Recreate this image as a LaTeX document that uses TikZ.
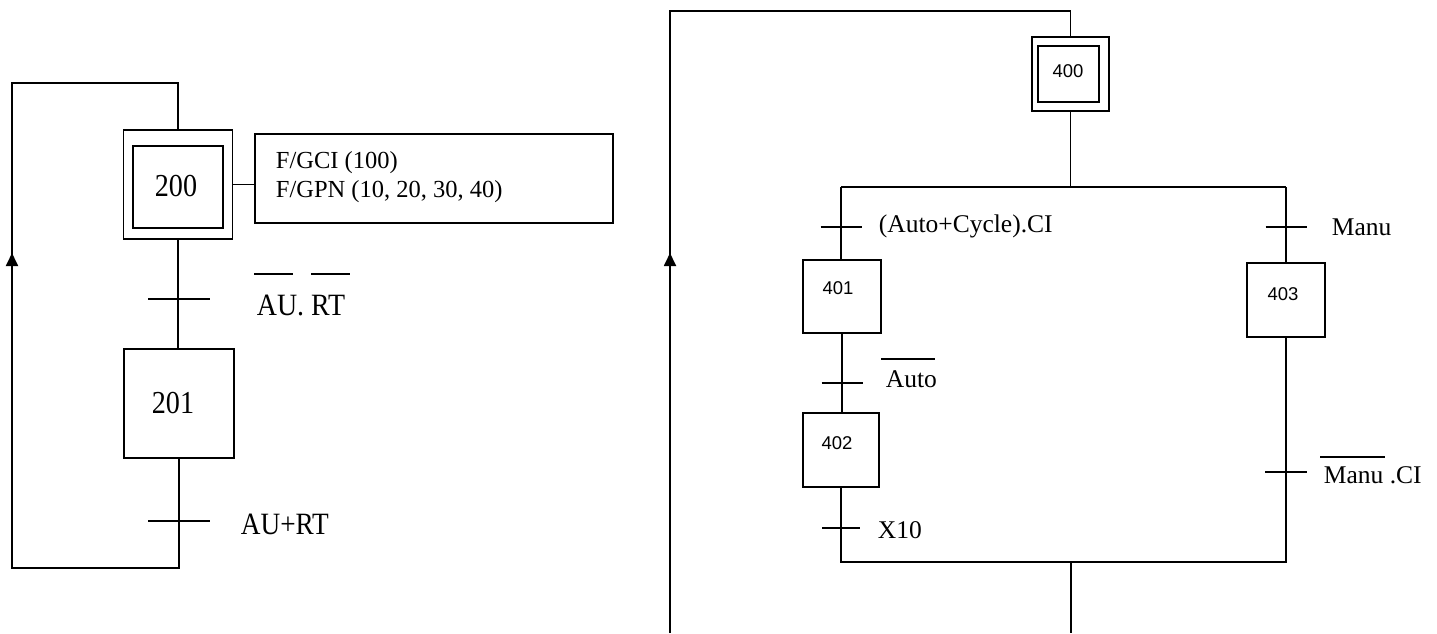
\documentclass[tikz,border=0pt]{standalone}
\usepackage{graphicx}
\usepackage{fontspec}
\setmainfont{Liberation Serif}
\newfontfamily\stepsans{Liberation Sans}
\usetikzlibrary{arrows.meta,calc}
\begin{document}
\begin{tikzpicture}[x=1pt,y=-1pt, line width=1.8pt,
  box/.style={draw, rectangle, inner sep=0pt},
  lbl/.style={inner sep=0pt, anchor=base west, font=\fontsize{25.5}{30}\selectfont},
  biglbl/.style={inner sep=0pt, anchor=base west, font=\fontsize{31}{36}\selectfont},
  num/.style={font=\stepsans\fontsize{18.5}{22}\selectfont, inner sep=0pt},
  bignum/.style={font=\fontsize{32}{38}\selectfont, inner sep=0pt},
  bar/.style={line width=1.5pt},
  uparrow/.style={-{Triangle[length=13pt,width=12pt]}}
]
\useasboundingbox (0,0) rectangle (1437,633);

% ---------------- left chart ----------------
\node[box, minimum width=109pt, minimum height=109pt] (s200) at (178,184.5) {};
\node[box, minimum width=90pt, minimum height=82pt] (s200i) at (178,187) {};
\node[bignum] (n200) at (176,186) {\scalebox{0.88}[1]{200}};

\node[box, minimum width=358pt, minimum height=89pt] (act) at (434,178.5) {};
\node[inner sep=0pt, anchor=base west, font=\fontsize{24.5}{29}\selectfont] (act1) at (275,168) {F/GCI (100)};
\node[inner sep=0pt, anchor=base west, font=\fontsize{24.5}{29}\selectfont] (act2) at (275,197) {F/GPN (10, 20, 30, 40)};
\draw (s200.east) -- (s200.east -| act.west);

\node[box, minimum width=110pt, minimum height=109pt] (s201) at (179,403.5) {};
\node[bignum] (n201) at (173,403) {\scalebox{0.88}[1]{201}};

\draw (s200.south) -- (s200.south |- s201.north);
\coordinate (t1) at (179,299);
\draw (t1) +(-31,0) -- +(31,0);
\node[biglbl] (c1) at (256,315) {\scalebox{0.9}[1]{AU. RT}};
\draw[bar] (254,274) -- (293,274);
\draw[bar] (311,274) -- (350,274);

\coordinate (t2) at (179,521);
\draw (t2) +(-31,0) -- +(31,0);
\node[biglbl] (c2) at (240,534) {\scalebox{0.88}[1]{AU+RT}};

\coordinate (lb) at (12,568);
\coordinate (lt) at (12,83);
\coordinate (la) at (12,253);
\draw (s201.south) -- (s201.south |- lb) -- (lb) -- (lt) -- (lt -| s200.north) -- (s200.north);
\draw[uparrow] (lb) -- (la);

% ---------------- right chart ----------------
\node[box, minimum width=77pt, minimum height=74pt] (s400) at (1070.5,74) {};
\node[box, minimum width=61pt, minimum height=56pt] (s400i) at (1068.5,74) {};
\node[num] (n400) at (1068,71) {400};

\coordinate (rt) at (670,11);
\coordinate (rb) at (670,633);
\coordinate (ra) at (670,253);
\draw (s400.north) -- (s400.north |- rt) -- (rt) -- (rb);
\draw[uparrow] (rb) -- (ra);

\coordinate (bl) at (841,187);
\coordinate (br) at (1286,187);
\draw (s400.south) -- (s400.south |- bl);
\draw (bl) -- (br);

\node[box, minimum width=78pt, minimum height=73pt] (s401) at (842,296.5) {};
\node[num] (n401) at (838,288) {401};
\node[box, minimum width=76pt, minimum height=74pt] (s402) at (841,450) {};
\node[num] (n402) at (837,443) {402};
\node[box, minimum width=78pt, minimum height=74pt] (s403) at (1286,300) {};
\node[num] (n403) at (1283,294) {403};

\draw (bl) -- (bl |- s401.north);
\coordinate (t3) at (841,227);
\draw (t3) +(-20.5,0) -- +(20.5,0);
\node[lbl] (c3) at (878,232) {(Auto+Cycle).CI};

\draw (s401.south) -- (s401.south |- s402.north);
\coordinate (t4) at (842,383);
\draw (t4) +(-20.5,0) -- +(20.5,0);
\node[lbl] (c4) at (885,387) {Auto};
\draw[bar] (881,359) -- (935,359);

\coordinate (jl) at (841,562);
\coordinate (bo) at (1071,633);
\draw (s402.south) -- (s402.south |- jl) -- (jl -| s403.south) -- (s403.south);
\draw (bo |- jl) -- (bo);
\coordinate (t5) at (841,528);
\draw (t5) +(-19,0) -- +(19,0);
\node[lbl] (c5) at (877,538) {X10};

\draw (br) -- (s403.north);
\coordinate (t6) at (1286,227);
\draw (t6) +(-20.5,0) -- +(20.5,0);
\node[lbl] (c6) at (1331,235) {Manu};

\coordinate (t7) at (1286,472);
\draw (t7) +(-21,0) -- +(21,0);
\node[lbl] (c7) at (1323,483) {Manu .CI};
\draw[bar] (1320,457) -- (1385,457);
\end{tikzpicture}
\end{document}
